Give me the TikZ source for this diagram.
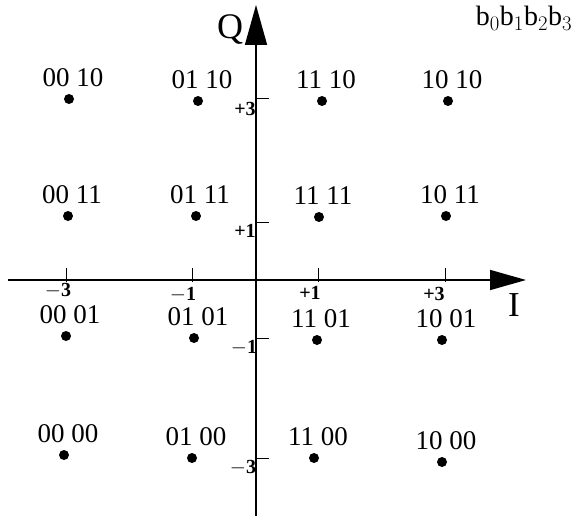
\documentclass[tikz,border=0pt]{standalone}
\usepackage{fontspec}
\setmainfont{Liberation Serif}
\usetikzlibrary{arrows.meta}
\begin{document}
\begin{tikzpicture}[x=1pt,y=-1pt,
  dot/.style={circle,fill=black,inner sep=0pt,minimum size=10pt},
  lab/.style={font=\fontsize{27}{29}\selectfont,inner sep=0pt},
  tick/.style={font=\fontsize{20}{22}\selectfont\bfseries,inner sep=0pt},
  axis/.style={line width=1.6pt},
  tk/.style={line width=1pt}]
\useasboundingbox (0,0) rectangle (578,516);
% axes
\coordinate (ql) at (256,516);
\coordinate (qt) at (256,5);
\coordinate (il) at (8,280);
\coordinate (ir) at (526,280);
\draw[axis,-{Triangle[length=40pt,width=22pt]}] (ql) -- (qt);
\draw[axis,-{Triangle[length=36pt,width=20pt]}] (il) -- (ir);
% ticks on I axis
\foreach \n/\x in {m3/66,m1/192,p1/318,p3/445}{
  \coordinate (xt\n) at (\x,282);
  \coordinate (xu\n) at (\x,268);
  \draw[tk] (xt\n) -- (xu\n);
}
% ticks on Q axis
\foreach \n/\y in {p3/99,p1/222,m1/338,m3/458}{
  \coordinate (yt\n) at (256,\y);
  \coordinate (yr\n) at (269,\y);
  \draw[tk] (yt\n) -- (yr\n);
}
% tick labels
\node[tick] (lxm3) at (58,291) {$-$3};
\node[tick] (lxm1) at (183,295) {$-$1};
\node[tick] (lxp1) at (310,293) {+1};
\node[tick] (lxp3) at (434,294) {+3};
\node[tick] (lyp3) at (245,109) {+3};
\node[tick] (lyp1) at (245,231) {+1};
\node[tick] (lym1) at (244,348) {$-$1};
\node[tick] (lym3) at (243,468) {$-$3};
% axis names
\node[inner sep=0pt,font=\fontsize{36}{38}\selectfont] (Q) at (230,30) {Q};
\node[inner sep=0pt,font=\fontsize{35}{37}\selectfont] (I) at (514,305) {I};
\node[inner sep=0pt,font=\fontsize{28}{30}\selectfont] (bits) at (524,18) {b$_0$b$_1$b$_2$b$_3$};
% constellation points
\foreach \n/\x/\y/\t in {
  a/69/99/00 10, b/198/101/01 10, c/322/101/11 10, d/448/101/10 10,
  e/68/216/00 11, f/196/216/01 11, g/319/217/11 11, h/446/216/10 11,
  i/66/336/00 01, j/194/338/01 01, k/317/340/11 01, l/442/340/10 01,
  m/64/455/00 00, n/192/458/01 00, o/314/458/11 00, p/442/462/10 00}{
  \node[dot] (d\n) at (\x,\y) {};
  \node[lab] (t\n) at ([xshift=4pt,yshift=21pt]d\n.center) {\t};
}
\end{tikzpicture}
\end{document}
